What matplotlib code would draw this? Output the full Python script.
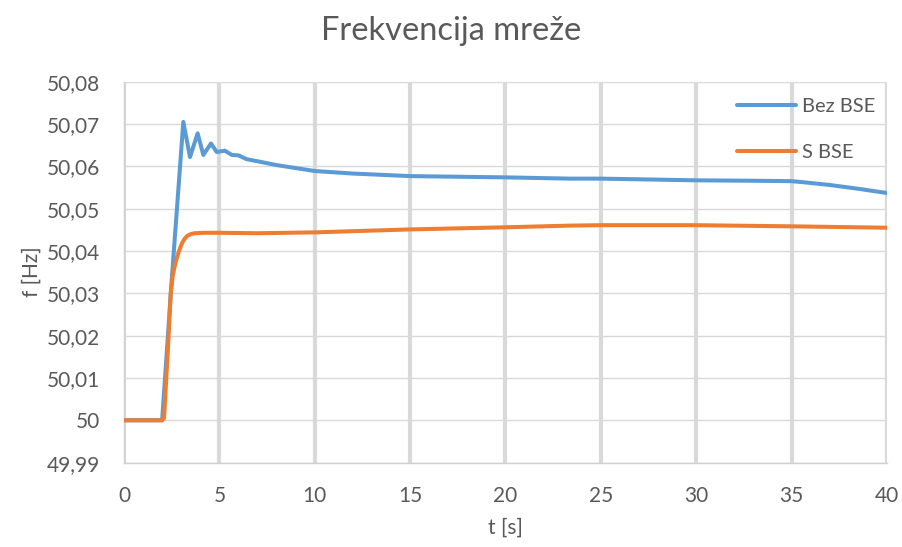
import matplotlib
matplotlib.use("Agg")
import matplotlib.pyplot as plt
from matplotlib.ticker import FuncFormatter, MultipleLocator
import numpy as np

# Frequency response without BSE
t_bez = [0, 2.0, 2.5, 3.11, 3.46, 3.86, 4.16, 4.56, 4.86, 5.29, 5.65, 6.0, 6.43,
         7, 8, 9, 10, 12, 15, 20, 23.4, 25, 30, 33, 35, 35.5, 37, 38.5, 40]
f_bez = [50.0, 50.0, 50.0330, 50.0705, 50.0622, 50.0678, 50.0627, 50.0654, 50.0634,
         50.0637, 50.0627, 50.0626, 50.0617, 50.0612, 50.0603, 50.0596, 50.0589,
         50.0583, 50.0577, 50.0574, 50.0571, 50.0571, 50.0567, 50.0566, 50.0565,
         50.0563, 50.0556, 50.0547, 50.0537]

# Frequency response with BSE
t_s = [0, 2.0, 2.1, 2.3, 2.45, 2.55, 2.65, 2.75, 2.85, 2.95, 3.05, 3.15, 3.3,
       3.5, 3.7, 4.2, 5, 7, 10, 15, 20, 23.4, 25, 30, 35.5, 40]
f_s = [50.0, 50.0, 50.0005, 50.0165, 50.0300, 50.0340, 50.0362, 50.0380, 50.0395,
       50.0408, 50.0419, 50.0427, 50.0435, 50.0440, 50.0442, 50.0443, 50.0443,
       50.0442, 50.0444, 50.0451, 50.0456, 50.0460, 50.0461, 50.0461, 50.0458,
       50.0455]

series_labels = ["Bez BSE", "S BSE"]
title = "Frekvencija mreže"
x_label = "t [s]"
y_label = "f [Hz]"

FONT = "Lato"
TXT = "#595959"

fig = plt.figure(figsize=(9.03, 5.47), dpi=100)
ax = fig.add_axes([0.1373, 0.1543, 0.845, 0.6963])

ax.plot(t_bez, f_bez, color="#5b9bd5", lw=2.9, label=series_labels[0],
        solid_joinstyle="round", solid_capstyle="round", zorder=3)
ax.plot(t_s, f_s, color="#ed7d31", lw=2.9, label=series_labels[1],
        solid_joinstyle="round", solid_capstyle="round", zorder=3)

ax.set_xlim(0, 40)
ax.set_ylim(49.99, 50.08)
ax.xaxis.set_major_locator(MultipleLocator(5))
ax.set_yticks(np.round(np.arange(49.99, 50.0801, 0.01), 2))


def comma_fmt(v, pos):
    s = f"{v:.2f}".rstrip("0").rstrip(".")
    return s.replace(".", ",")


ax.yaxis.set_major_formatter(FuncFormatter(comma_fmt))

ax.grid(axis="x", color="#d9d9d9", lw=3.0, zorder=0)
ax.grid(axis="y", color="#d9d9d9", lw=1.0, zorder=0)
ax.set_axisbelow(True)

for side in ("top", "right"):
    ax.spines[side].set_visible(False)
for side in ("left", "bottom"):
    ax.spines[side].set_color("#d0d0d0")
    ax.spines[side].set_linewidth(1.0)

ax.tick_params(axis="both", length=0, labelsize=15, labelcolor=TXT)
ax.tick_params(axis="x", pad=17)
ax.tick_params(axis="y", pad=17)
for lbl in ax.get_xticklabels() + ax.get_yticklabels():
    lbl.set_family(FONT)

ax.set_xlabel(x_label, fontsize=15, color=TXT, family=FONT, labelpad=8)
ax.set_ylabel(y_label, fontsize=15, color=TXT, family=FONT, labelpad=4)
fig.text(0.5, 0.943, title, ha="center", va="center", fontsize=23.5,
         color=TXT, family=FONT)

leg = ax.legend(loc="upper right", bbox_to_anchor=(1.0, 0.99), frameon=False,
                prop={"family": FONT, "size": 14.5}, handlelength=2.9,
                handletextpad=0.3, labelspacing=1.45, borderaxespad=0.2)
for txt in leg.get_texts():
    txt.set_color(TXT)

fig.savefig("out.png", dpi=100, facecolor="white")
